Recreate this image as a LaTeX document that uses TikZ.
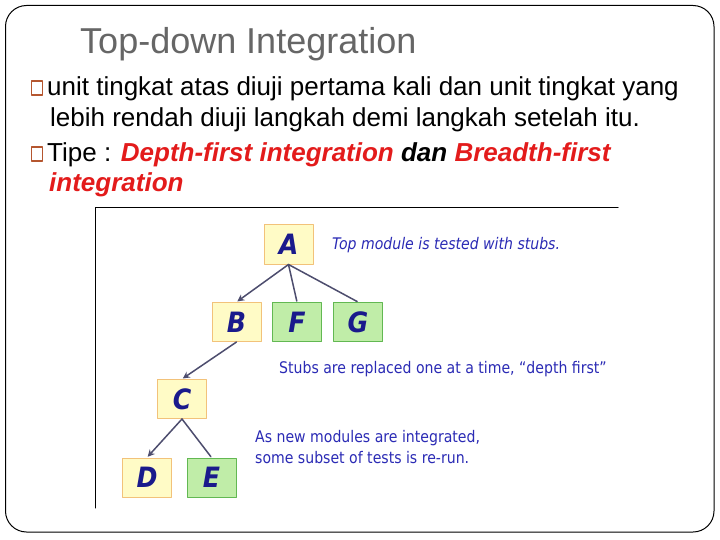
\documentclass[tikz,border=0pt]{standalone}
\usepackage{fontspec}
\setmainfont{Liberation Sans}
\newfontfamily\notefont[FakeStretch=0.88]{DejaVu Sans}
\newfontfamily\boxfont[FakeStretch=0.9]{DejaVu Sans}
\usetikzlibrary{arrows.meta}
\definecolor{titlegray}{HTML}{666666}
\definecolor{redtext}{HTML}{E31B1B}
\definecolor{bulletcol}{HTML}{B5562F}
\definecolor{boxyellow}{HTML}{FFFBC6}
\definecolor{yborder}{HTML}{F2C27A}
\definecolor{boxgreen}{HTML}{C0EDA8}
\definecolor{gborder}{HTML}{62B852}
\definecolor{lettercol}{HTML}{1A1A8C}
\definecolor{notecol}{HTML}{2B2BB5}
\definecolor{linkcol}{HTML}{4D4D6E}
\begin{document}
\begin{tikzpicture}[x=1pt, y=-1pt, line join=round, line cap=round, >={Stealth[length=7pt, width=7pt]},
    ybox/.style={draw=yborder, fill=boxyellow, line width=1pt, minimum width=49pt, minimum height=39pt, inner sep=0pt,
        text=lettercol, font=\boxfont\bfseries\itshape\fontsize{28}{28}\selectfont},
    gbox/.style={ybox, draw=gborder, fill=boxgreen},
    note/.style={anchor=west, inner sep=0pt, align=left, text=notecol, font=\notefont\fontsize{16}{21}\selectfont},
    bodytext/.style={anchor=base west, inner sep=0pt, font=\fontsize{26}{31}\selectfont},
    bullet/.style={draw=bulletcol, line width=1.3pt, minimum width=11pt, minimum height=14pt, inner sep=0pt},
    link/.style={draw=linkcol, line width=1.5pt, shorten >=1pt}]
    \def\xmin{0}\def\xmax{720}\def\ymin{0}\def\ymax{540}
    \useasboundingbox (\xmin,\ymin) rectangle (\xmax,\ymax);
    \fill[white] (\xmin,\ymin) rectangle (\xmax,\ymax);
    \draw[line width=1pt, rounded corners=21pt] (5.5,5.5) rectangle (714,532);
    \node[anchor=base west, inner sep=0pt, text=titlegray, font=\fontsize{36}{42}\selectfont] (title) at (80,54) {Top-down Integration};
    \foreach \n/\y in {1/88,2/154} \node[bullet] (bul\n) at (37,\y) {};
    \node[bodytext] (line1) at (47,96) {unit tingkat atas diuji pertama kali dan unit tingkat yang};
    \node[bodytext] (line2) at (50,127) {lebih rendah diuji langkah demi langkah setelah itu.};
    \node[bodytext] (line3) at (47,162) {Tipe : \textcolor{redtext}{\bfseries\itshape Depth-first integration} {\bfseries\itshape dan} \textcolor{redtext}{\bfseries\itshape Breadth-first}};
    \node[bodytext] (line4) at (49,192) {\color{redtext}\bfseries\itshape integration};
    \draw[line width=1pt] (95,508) -- (95,208) -- (618,208);
    \foreach \n/\x/\y in {A/288.5/244.5, B/236.5/322, C/182/399, D/147/477.5} \node[ybox] (\n) at (\x,\y) {\n};
    \foreach \n/\x/\y in {F/297/322, G/358/322, E/211.5/477.5} \node[gbox] (\n) at (\x,\y) {\n};
    \draw[link,->] (A.south) -- (B.north);
    \draw[link] (A.south) -- (F.north);
    \draw[link] (A.south) -- (G.north);
    \draw[link,->] (B.south) -- (C.north);
    \draw[link,->] (C.south) -- (D.north);
    \draw[link] (C.south) -- (E.north);
    \node[note, font=\notefont\itshape\fontsize{16}{21}\selectfont] (topnote) at (332,245) {Top module is tested with stubs.};
    \node[note] (stubnote) at (279,369) {Stubs are replaced one at a time, “depth first”};
    \node[note] (rerunnote) at (255,447.5) {As new modules are integrated,\\some subset of tests is re-run.};
\end{tikzpicture}
\end{document}
